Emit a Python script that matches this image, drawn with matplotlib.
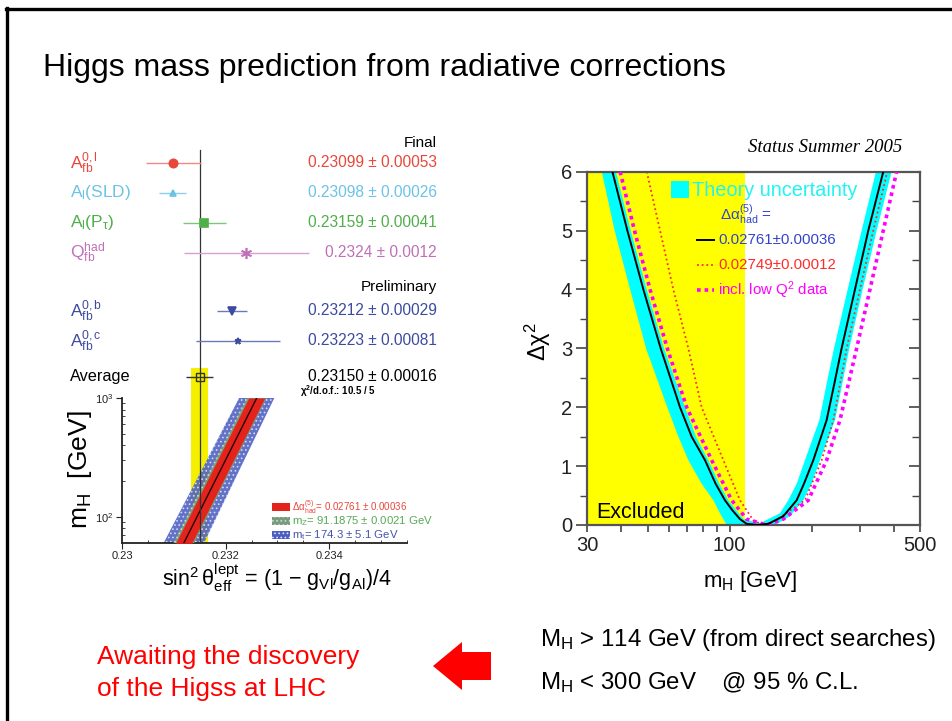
import matplotlib
matplotlib.use('Agg')
import matplotlib.pyplot as plt
import matplotlib.ticker as mticker
from matplotlib.patches import Rectangle, Polygon
from matplotlib.lines import Line2D
from matplotlib.transforms import blended_transform_factory

plt.rcParams['font.family'] = ['Liberation Sans', 'DejaVu Sans']
plt.rcParams['mathtext.fontset'] = 'custom'
plt.rcParams['mathtext.rm'] = 'Liberation Sans'
plt.rcParams['mathtext.it'] = 'Liberation Sans:italic'
plt.rcParams['mathtext.bf'] = 'Liberation Sans:bold'
plt.rcParams['mathtext.default'] = 'regular'
plt.rcParams['hatch.linewidth'] = 0.7

# ---------------- data: left panel (sin^2 theta_eff measurements) ----------------
meas_labels = ['$A_{fb}^{0,l}$', '$A_l$(SLD)', '$A_l(P_\\tau)$', '$Q_{fb}^{had}$',
               '$A_{fb}^{0,b}$', '$A_{fb}^{0,c}$']
meas_values = [0.23099, 0.23098, 0.23159, 0.2324, 0.23212, 0.23223]
meas_errors = [0.00053, 0.00026, 0.00041, 0.0012, 0.00029, 0.00081]
meas_texts = ['0.23099 ± 0.00053', '0.23098 ± 0.00026', '0.23159 ± 0.00041',
              '0.2324 ± 0.0012', '0.23212 ± 0.00029', '0.23223 ± 0.00081']
avg_value = 0.23150
avg_error = 0.00016
avg_text = '0.23150 ± 0.00016'
chi2_text = '$\\chi^2$/d.o.f.: 10.5 / 5'

# SM prediction band in (sin2, mH) plane
band_mh = [60, 1000]
band_center = [0.23119, 0.23260]
band_half_alpha = [0.000155, 0.000155]
band_half_mz = [0.00020, 0.00019]
band_half_mt = [0.00039, 0.00034]
band_legend = ['$\\Delta\\alpha_{had}^{(5)}$= 0.02761 ± 0.00036',
               'm$_Z$= 91.1875 ± 0.0021 GeV',
               'm$_t$= 174.3 ± 5.1 GeV']

# ---------------- data: right panel (blue band) ----------------
black_mh = [37.1, 42.1, 48.2, 55.8, 65.7, 72.5, 81.2, 88.8, 96.1, 102.3, 109.1,
            115.4, 126.3, 138.7, 157.4, 176.2, 187.4, 202.8, 227.0, 242.3, 257.7,
            288.5, 322.9, 366.5]
black_chi2 = [6, 5, 4, 3, 2, 1.5, 1.1, 0.7, 0.42, 0.25, 0.1, 0.02, 0, 0.02, 0.15,
              0.42, 0.7, 1.1, 1.78, 2.4, 3, 4, 5, 6]
red_mh = [49.6, 55.5, 62.1, 70.5, 78.9, 94.8, 109.1, 122.1, 132.9, 144.6, 189.0,
          217.6, 240.3, 268.9, 300.9, 336.8, 379.2]
red_chi2 = [6, 5, 4, 3, 2, 1.1, 0.42, 0.08, 0, 0.05, 0.42, 1.1, 1.78, 3, 4, 5, 6]
mag_mh = [39.6, 44.7, 51.0, 59.0, 69.5, 85.9, 101.7, 115.4, 136.7, 157.4, 194.4,
          227.0, 254.1, 292.6, 327.5, 366.5, 410.3]
mag_chi2 = [6, 5, 4, 3, 2, 1.1, 0.42, 0.1, 0, 0.1, 0.42, 1.1, 1.78, 3, 4, 5, 6]
theory_mh = [33.9, 37.8, 43.1, 49.3, 59.0, 64.8, 70.5, 78.9, 87.1, 92.1, 97.5,
             146.7, 166.5, 186.4, 200.0, 214.6, 243.7, 259.2, 275.0, 307.8, 346.5,
             393.4,
             344.5, 305.2, 271.2, 241.6, 227.0, 213.4, 189.0, 176.2, 164.1, 153.0,
             129.2,
             112.2, 98.8, 91.6, 83.5, 75.2, 68.5, 57.4, 49.6, 43.3, 38.2]
theory_chi2 = [6, 5, 4, 3, 2, 1.5, 1.1, 0.7, 0.42, 0.2, 0,
               0, 0.15, 0.42, 0.7, 1.1, 1.78, 2.4, 3, 4, 5, 6,
               6, 5, 4, 3, 2.4, 1.78, 1.1, 0.7, 0.42, 0.2, 0.03,
               0.1, 0.42, 0.7, 1.1, 1.5, 2, 3, 4, 5, 6]
excluded_limit = 114
legend_lines = ['0.02761±0.00036', '0.02749±0.00012', 'incl. low Q$^2$ data']

W, H = 953, 721
fig = plt.figure(figsize=(W / 100, H / 100), dpi=100)
fig.patch.set_facecolor('white')


def fx(p):
    return p / W


def fy(p):
    return 1 - p / H


# slide frame
fig.add_artist(Line2D([fx(6), fx(953)], [fy(9), fy(9)], color='black', lw=2.4))
fig.add_artist(Line2D([fx(7), fx(7)], [fy(8), fy(721)], color='black', lw=2.4))

fig.text(fx(43), fy(68), 'Higgs mass prediction from radiative corrections',
         fontsize=23, ha='left', va='center', color='black')

# ---------------- left: measurements ----------------
X0, X1 = 0.23, 0.2355
axf = fig.add_axes([fx(122), fy(398), (407 - 122) / W, (398 - 130) / H])
axf.set_xlim(X0, X1)
axf.set_ylim(398, 130)
axf.axis('off')
tr = blended_transform_factory(fig.transFigure, axf.transData)

row_y = [163, 193, 223, 253, 311, 341]
avg_y = 377
colors_txt = ['#e8473c', '#6cc3e6', '#4fb04a', '#c070b8', '#3d4ba0', '#3d4ba0']
colors_bar = ['#f08a80', '#8ccfe8', '#7cc878', '#d7a0d0', '#6d78b8', '#6d78b8']
markers = ['o', '^', 's', (6, 2, 0), 'v', '*']
msizes = [6, 5, 6, 8, 6, 5]

axf.plot([avg_value, avg_value], [150, 398], color='#333333', lw=0.9, zorder=2)
axf.fill_betweenx([368, 398], avg_value - avg_error, avg_value + avg_error,
                  color='#f5f000', lw=0, zorder=1)

for i in range(len(meas_values)):
    axf.errorbar(meas_values[i], row_y[i], xerr=meas_errors[i], fmt='none',
                 ecolor=colors_bar[i], elinewidth=1.0, capsize=0, zorder=3)
    axf.plot(meas_values[i], row_y[i], marker=markers[i], color=colors_txt[i],
             ms=msizes[i], mew=1.2, ls='none', zorder=4)
    fig.text(fx(70), 0, meas_labels[i], fontsize=12.5, color=colors_txt[i],
             ha='left', va='center').set(transform=tr, y=row_y[i])
    fig.text(fx(437), 0, meas_texts[i], fontsize=11.2, color=colors_txt[i],
             ha='right', va='center').set(transform=tr, y=row_y[i])

axf.errorbar(avg_value, avg_y, xerr=avg_error * 1.6, fmt='s', mfc='none',
             mec='#333333', ecolor='#333333', ms=6, mew=1.0, elinewidth=1.0,
             zorder=5)

fig.text(fx(437), 0, 'Final', fontsize=11, ha='right', va='center').set(
    transform=tr, y=143)
fig.text(fx(437), 0, 'Preliminary', fontsize=11, ha='right', va='center').set(
    transform=tr, y=287)
fig.text(fx(70), 0, 'Average', fontsize=11.7, ha='left', va='center').set(
    transform=tr, y=avg_y)
fig.text(fx(437), 0, avg_text, fontsize=11.2, ha='right', va='center').set(
    transform=tr, y=avg_y)
fig.text(fx(300), 0, chi2_text, fontsize=7, ha='left', va='center',
         fontweight='bold').set(transform=tr, y=391)

# ---------------- left: mH vs sin2 ----------------
axb = fig.add_axes([fx(122), fy(543), (407 - 122) / W, (543 - 398) / H])
axb.set_xlim(X0, X1)
axb.set_yscale('log')
axb.set_ylim(60.4, 1000)
axb.axvspan(avg_value - avg_error, avg_value + avg_error, color='#f5f000', lw=0,
            zorder=1)
axb.axvline(avg_value, color='#333333', lw=0.9, zorder=6)
lo = [c - h for c, h in zip(band_center, band_half_mt)]
hi = [c + h for c, h in zip(band_center, band_half_mt)]
axb.fill_betweenx(band_mh, lo, hi, facecolor='#4c5fc0', edgecolor='#dfe4ff',
                  hatch='....', lw=0, alpha=0.88, zorder=2)
lo = [c - h for c, h in zip(band_center, band_half_mz)]
hi = [c + h for c, h in zip(band_center, band_half_mz)]
axb.fill_betweenx(band_mh, lo, hi, facecolor='#7a9a80', edgecolor='#c8e0c8',
                  hatch='....', lw=0, zorder=3)
lo = [c - h for c, h in zip(band_center, band_half_alpha)]
hi = [c + h for c, h in zip(band_center, band_half_alpha)]
axb.fill_betweenx(band_mh, lo, hi, color='#e4241c', lw=0, zorder=4)
axb.plot(band_center, band_mh, color='#220000', lw=1.0, zorder=5)

for s in ['top', 'right']:
    axb.spines[s].set_visible(False)
for s in ['left', 'bottom']:
    axb.spines[s].set_linewidth(1.3)
    axb.spines[s].set_color('#222222')
axb.xaxis.set_major_locator(mticker.FixedLocator([0.23, 0.232, 0.234]))
axb.xaxis.set_major_formatter(mticker.FixedFormatter(['0.23', '0.232', '0.234']))
axb.xaxis.set_minor_locator(mticker.MultipleLocator(0.0005))
axb.yaxis.set_major_locator(mticker.FixedLocator([100, 1000]))
axb.yaxis.set_major_formatter(mticker.FixedFormatter(['10$^2$', '10$^3$']))
axb.yaxis.set_minor_locator(mticker.LogLocator(base=10, subs=range(2, 10)))
axb.yaxis.set_minor_formatter(mticker.NullFormatter())
axb.tick_params(axis='both', which='major', labelsize=8, length=4, width=0.8,
                colors='#222222', pad=2)
axb.tick_params(axis='both', which='minor', length=2.5, width=0.6,
                direction='in', colors='#222222')

leg_y = [507, 521, 535]
leg_fc = ['#e4241c', '#7a9a80', '#4c5fc0']
leg_ec = ['#e4241c', '#c8e0c8', '#dfe4ff']
leg_tc = ['#e8473c', '#55aa55', '#4455aa']
leg_fs = [7.0, 8.2, 8.2]
for i in range(3):
    fig.add_artist(Rectangle((fx(272), fy(leg_y[i] + 4)), 18 / W, 8 / H,
                             facecolor=leg_fc[i], edgecolor=leg_ec[i],
                             hatch=None if i == 0 else '....', lw=0))
    fig.text(fx(292), fy(leg_y[i]), band_legend[i], fontsize=leg_fs[i],
             color=leg_tc[i], ha='left', va='center')

fig.text(fx(80), fy(470), '$m_H$  [GeV]', fontsize=19, rotation=90,
         ha='center', va='center')
fig.text(fx(277), fy(578),
         '$\\sin^2\\theta_{eff}^{lept}$ = (1 $-$ $g_{Vl}/g_{Al}$)/4',
         fontsize=15.5, ha='center', va='center')

# ---------------- right: delta chi2 ----------------
axr = fig.add_axes([fx(587.3), fy(525), 332.7 / W, 353.3 / H])
axr.set_xscale('log')
axr.set_xlim(30, 500)
axr.set_ylim(0, 6)
axr.axvspan(30, excluded_limit, color='#ffff00', lw=0, zorder=0)
axr.fill(theory_mh, theory_chi2, color='#00ffff', lw=0, zorder=1)
axr.plot(red_mh, red_chi2, color='#ff2a2a', lw=1.3, ls=(0, (1, 1.6)), zorder=2)
axr.plot(mag_mh, mag_chi2, color='#ff00ff', lw=2.6, ls=(0, (1, 1.1)), zorder=3)
axr.plot(black_mh, black_chi2, color='black', lw=1.4, zorder=4)

for s in axr.spines.values():
    s.set_linewidth(1.6)
    s.set_color('#555555')
axr.xaxis.set_major_locator(mticker.FixedLocator([30, 100, 500]))
axr.xaxis.set_major_formatter(mticker.FixedFormatter(['30', '100', '500']))
axr.xaxis.set_minor_locator(mticker.FixedLocator([40, 50, 60, 70, 80, 90, 200, 300, 400]))
axr.xaxis.set_minor_formatter(mticker.NullFormatter())
axr.yaxis.set_major_locator(mticker.MultipleLocator(1))
axr.yaxis.set_minor_locator(mticker.MultipleLocator(0.5))
axr.tick_params(axis='x', which='both', direction='out', length=5, width=1.2,
                colors='#444444', labelcolor='#222222', labelsize=14.5, pad=3)
axr.tick_params(axis='y', which='major', direction='out', length=8, width=1.2,
                colors='#444444', labelcolor='#222222', labelsize=14.5, pad=3)
axr.tick_params(axis='y', which='minor', direction='out', length=5, width=1.0,
                colors='#444444')
sec = axr.secondary_yaxis('right')
sec.yaxis.set_major_locator(mticker.MultipleLocator(1))
sec.yaxis.set_minor_locator(mticker.MultipleLocator(0.5))
sec.tick_params(axis='y', which='major', direction='in', length=8, width=1.2,
                colors='#444444', labelright=False)
sec.tick_params(axis='y', which='minor', direction='in', length=6, width=1.0,
                colors='#444444')
sec.spines['right'].set_visible(False)

axr.text(32.3, 0.22, 'Excluded', fontsize=15.5, ha='left', va='center', zorder=5)

fig.text(fx(538), fy(342), '$\\Delta\\chi^2$', fontsize=17, rotation=90,
         ha='center', va='center')
fig.text(fx(750), fy(582), '$m_H$ [GeV]', fontsize=16, ha='center', va='center')
fig.text(fx(902), fy(147), 'Status Summer 2005', family='Liberation Serif',
         style='italic', fontsize=13.5, ha='right', va='center')

# legend in right panel
fig.add_artist(Rectangle((fx(671), fy(198)), 18 / W, 17 / H, facecolor='#00ffff',
                         lw=0))
fig.text(fx(692), fy(190), 'Theory uncertainty', fontsize=14.4, color='#22f4f4',
         ha='left', va='center')
fig.text(fx(720), fy(215), '$\\Delta\\alpha_{had}^{(5)}$ =', fontsize=11,
         color='#3344cc', ha='left', va='center')
leg_styles = [dict(color='black', lw=1.4, ls='-'),
              dict(color='#ff2a2a', lw=1.3, ls=(0, (1, 1.6))),
              dict(color='#ff00ff', lw=2.6, ls=(0, (1, 1.1)))]
leg_text_col = ['#3344cc', '#ff2a2a', '#ff00ff']
leg_rows = [240, 265, 290]
for i in range(3):
    fig.add_artist(Line2D([fx(697), fx(714)], [fy(leg_rows[i]), fy(leg_rows[i])],
                          **leg_styles[i]))
    fig.text(fx(718), fy(leg_rows[i]), legend_lines[i], fontsize=10.8,
             color=leg_text_col[i], ha='left', va='center')

# ---------------- bottom texts ----------------
fig.text(fx(97), fy(657), 'Awaiting the discovery', fontsize=19, color='#ff0000',
         ha='left', va='center')
fig.text(fx(97), fy(689), 'of the Higss at LHC', fontsize=19, color='#ff0000',
         ha='left', va='center')
arrow_pts = [(433, 666), (462, 642), (462, 652), (491, 652), (491, 680),
             (462, 680), (462, 690)]
fig.add_artist(Polygon([(fx(a), fy(b)) for a, b in arrow_pts], closed=True,
                       facecolor='#ff0000', edgecolor='none'))
fig.text(fx(540), fy(640), 'M$_H$ > 114 GeV (from direct searches)', fontsize=17.3,
         ha='left', va='center')
fig.text(fx(540), fy(683), 'M$_H$ < 300 GeV    @ 95 % C.L.', fontsize=17.3,
         ha='left', va='center')

fig.savefig('out.png', dpi=100)
